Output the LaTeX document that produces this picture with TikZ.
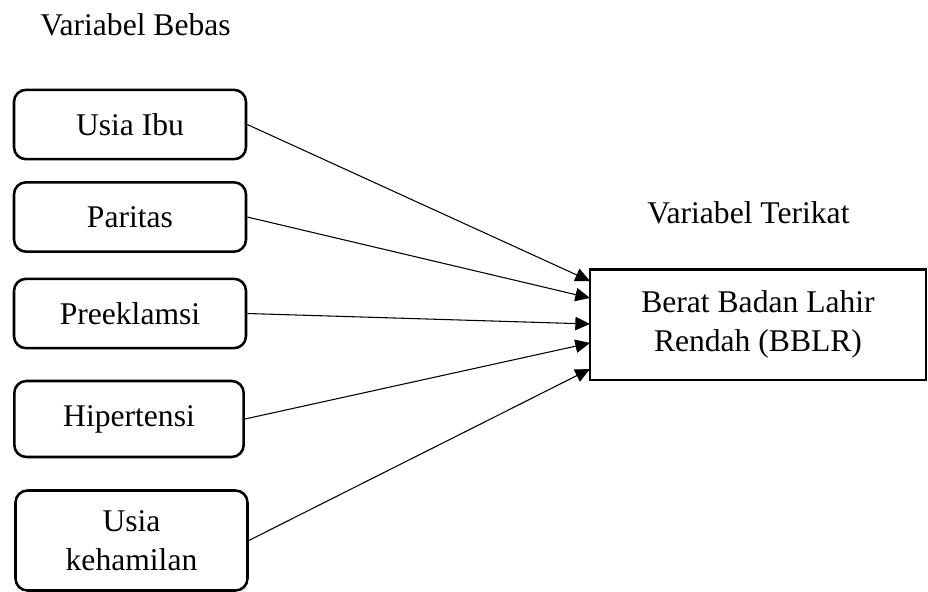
\documentclass[tikz,border=0pt]{standalone}
\usepackage{fontspec}
\setmainfont{Liberation Serif}
\usetikzlibrary{arrows.meta}
\begin{document}
\begin{tikzpicture}[x=0.75pt,y=-0.75pt,
  font=\fontsize{23.7}{29}\selectfont,
  varbox/.style={draw, line width=1.9pt, rounded corners=9pt, align=center,
    inner sep=0pt, minimum width=174pt, minimum height=52pt},
  depbox/.style={draw, line width=2pt, align=center, inner sep=0pt,
    minimum width=252pt, minimum height=83pt},
  link/.style={line width=0.8pt, -{Triangle[length=11pt,width=10pt]}},
  lbl/.style={inner sep=0pt, anchor=base west}]
\useasboundingbox (0,0) rectangle (928,592);
\node[lbl] (bebas) at (40,36) {Variabel Bebas};
\node[lbl] (terikat) at (647,223) {Variabel Terikat};
\node[varbox] (usia) at (130,124.5) {Usia Ibu};
\node[varbox] (paritas) at (130,217) {Paritas};
\node[varbox] (pre) at (130,313.5) {Preeklamsi};
\node[varbox, minimum width=172pt, minimum height=57pt] (hiper) at (129,419) {Hipertensi};
\node[varbox, minimum height=75pt] (hamil) at (131.5,540.5) {Usia\\kehamilan};
\node[depbox] (bblr) at (758,324.5) {Berat Badan Lahir\\Rendah (BBLR)};
\coordinate (t1) at (590,281);
\coordinate (t2) at (590,298);
\coordinate (t3) at (590,324);
\coordinate (t4) at (590,343);
\coordinate (t5) at (590,369);
\draw[link] (usia.east) -- (t1);
\draw[link] (paritas.east) -- (t2);
\draw[link] (pre.east) -- (t3);
\draw[link] (hiper.east) -- (t4);
\draw[link] (hamil.east) -- (t5);
\end{tikzpicture}
\end{document}
